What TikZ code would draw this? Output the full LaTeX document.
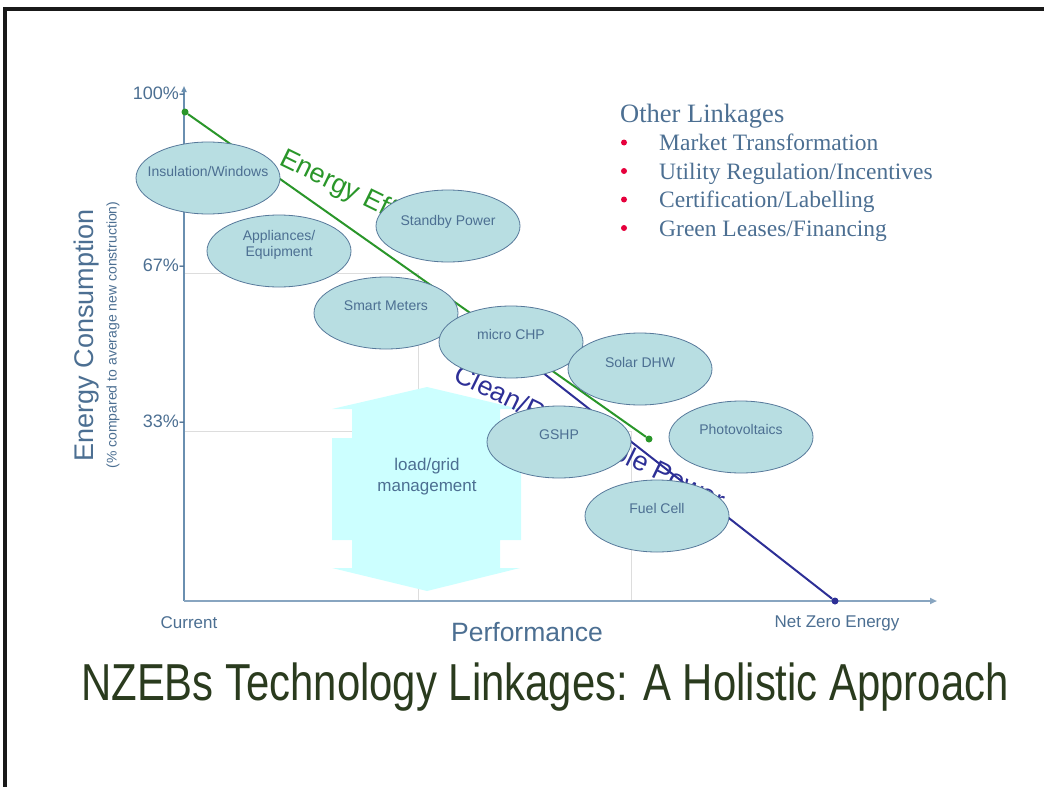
\documentclass[tikz,border=0pt]{standalone}
\usepackage{fontspec}
\setmainfont{Liberation Sans}
\newfontfamily\serifont{Liberation Serif}
\newfontfamily\narrowfont[FakeStretch=0.805]{Liberation Sans}
\usetikzlibrary{shapes.geometric, arrows.meta}
\definecolor{axisblue}{HTML}{6A8FB0}
\definecolor{labelblue}{HTML}{4C6F92}
\definecolor{effgreen}{HTML}{2A962A}
\definecolor{cleanblue}{HTML}{2D2F96}
\definecolor{techfill}{HTML}{B8DEE2}
\definecolor{techline}{HTML}{56789A}
\definecolor{loadcyan}{HTML}{CCFFFF}
\definecolor{gridgrey}{HTML}{DDDDDD}
\definecolor{bulletred}{HTML}{E6003C}
\definecolor{titlegreen}{HTML}{2A3B1E}

\begin{document}
\begin{tikzpicture}[x=1pt, y=-1pt,
    tech/.style={ellipse, draw=techline, line width=0.8pt, fill=techfill, minimum width=144pt, minimum height=72pt, inner sep=0pt},
    techlabel/.style={text=labelblue, font=\fontsize{14}{16.5}\selectfont, align=center, inner sep=0pt},
    ticklabel/.style={anchor=east, text=labelblue, font=\fontsize{18}{20}\selectfont, inner sep=0pt},
    dot/.style={circle, fill=#1, minimum size=7pt, inner sep=0pt},
    linelabel/.style={anchor=base west, rotate=-26, text=#1, font=\fontsize{27}{32}\selectfont, inner sep=0pt},
    axislabel/.style={text=labelblue, inner sep=0pt}]
    \useasboundingbox (0,0) rectangle (1044,787);
    % Frame
    \draw[line width=3.5pt, black!90] (5,787) -- (5,9) -- (1044,9);
    % Grid
    \draw[gridgrey, line width=1pt] (184,273) -- (418,273) -- (418,600);
    \draw[gridgrey, line width=1pt] (184,431) -- (631,431) -- (631,600);
    % Axes
    \coordinate (origin) at (184,601);
    \coordinate (y-top) at (184,86);
    \coordinate (x-end) at (937,601);
    \draw[axisblue, line width=1.5pt, -{Triangle[length=6pt, width=5pt]}] (origin) -- (y-top);
    \draw[axisblue!80, line width=2pt, -{Triangle[length=7pt, width=6pt]}] (origin) -- (x-end);
    \node[ticklabel] (tick-100) at (185,93) {100\%-};
    \node[ticklabel] (tick-67) at (185,265) {67\%-};
    \node[ticklabel] (tick-33) at (185,421) {33\%-};
    % Load arrow
    \fill[loadcyan] (427,387) -- (520,409) -- (500,409) -- (500,438) -- (521,438) -- (521,540) -- (500,540) -- (500,568) -- (520,568) -- (427,591)
        -- (332,568) -- (352,568) -- (352,540) -- (332,540) -- (332,438) -- (352,438) -- (352,409) -- (332,409) -- cycle;
    \node[text=labelblue, font=\fontsize{17}{21}\selectfont, align=center, inner sep=0pt] (load) at (427,477) {load/grid\\management};
    % Paths
    \node[dot=effgreen] (eff-start) at (185,112) {};
    \node[dot=effgreen] (eff-end) at (649,439) {};
    \draw[effgreen, line width=2pt] (eff-start) -- (eff-end);
    \coordinate (clean-start) at (478,322);
    \node[dot=cleanblue] (clean-end) at (835,601) {};
    \draw[cleanblue, line width=2pt] (clean-start) -- (clean-end);
    \node[linelabel=effgreen] (eff-label) at (278,164) {Energy Efficiency};
    \node[linelabel=cleanblue] (clean-label) at (452,380) {Clean/Renewable Power};
    % Technologies
    \node[tech] (ins) at (208,178) {};
    \node[techlabel] at ([yshift=7pt]ins.center) {Insulation/Windows};
    \node[tech] (app) at (279,251) {};
    \node[techlabel] at ([yshift=6pt]app.center) {Appliances/\\Equipment};
    \node[tech] (stby) at (448,226) {};
    \node[techlabel] at ([yshift=4pt]stby.center) {Standby Power};
    \node[tech] (smart) at (386,313) {};
    \node[techlabel] at ([yshift=7pt]smart.center) {Smart Meters};
    \node[tech] (chp) at (511,342) {};
    \node[techlabel] at ([yshift=8pt]chp.center) {micro CHP};
    \node[tech] (dhw) at (640,369) {};
    \node[techlabel] at ([yshift=7pt]dhw.center) {Solar DHW};
    \node[tech] (gshp) at (559,442) {};
    \node[techlabel] at ([yshift=7pt]gshp.center) {GSHP};
    \node[tech] (pv) at (741,437) {};
    \node[techlabel] at ([yshift=8pt]pv.center) {Photovoltaics};
    \node[tech] (fuel) at (657,516) {};
    \node[techlabel] at ([yshift=8pt]fuel.center) {Fuel Cell};
    % Other linkages
    \node[anchor=base west, text=labelblue, font=\serifont\fontsize{26.5}{30}\selectfont, inner sep=0pt] (other) at (620,122) {Other Linkages};
    \foreach \txt [count=\i] in {Market Transformation, {Utility Regulation/Incentives}, {Certification/Labelling}, {Green Leases/Financing}} {
        \node[circle, fill=bulletred, minimum size=6pt, inner sep=0pt] (bullet-\i) at (624,114+28.5*\i) {};
        \node[anchor=base west, text=labelblue, font=\serifont\fontsize{23.5}{27}\selectfont, inner sep=0pt] (item-\i) at (659,122+28.5*\i) {\txt};
    }
    % Axis labels
    \node[axislabel, rotate=90, font=\fontsize{27}{32}\selectfont] (y-label) at (87,335) {Energy Consumption};
    \node[axislabel, rotate=90, font=\fontsize{14}{16}\selectfont] (y-sublabel) at (113,335) {(\% compared to average new construction)};
    \node[axislabel, font=\fontsize{26.5}{31}\selectfont] (x-label) at (527,632) {Performance};
    \node[axislabel, font=\fontsize{17}{20}\selectfont] (current) at (189,623) {Current};
    \node[axislabel, font=\fontsize{17}{20}\selectfont] (net-zero) at (837,623) {Net Zero Energy};
    % Title
    \node[anchor=base, text=titlegreen, font=\narrowfont\fontsize{52}{60}\selectfont, inner sep=0pt] (title) at (545,700) {NZEBs Technology Linkages: A Holistic Approach};
\end{tikzpicture}
\end{document}
